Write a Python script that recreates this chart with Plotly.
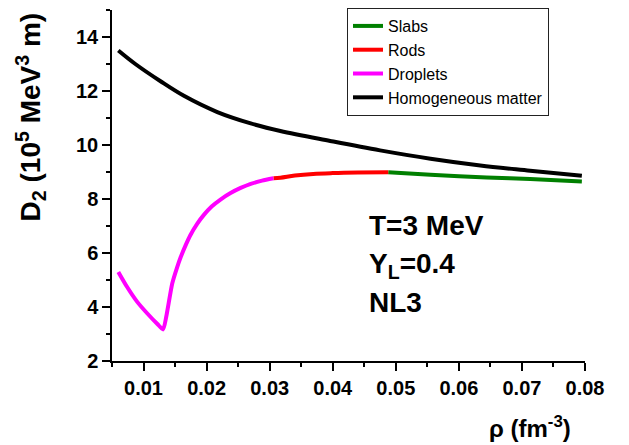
import plotly.graph_objects as go

# Data
slabs_x = [0.0488, 0.0555, 0.0644, 0.0713, 0.0795]
slabs_y = [8.99, 8.90, 8.80, 8.74, 8.65]

rods_x = [0.0306, 0.0317, 0.0340, 0.0369, 0.0400, 0.0440, 0.0488]
rods_y = [8.77, 8.79, 8.87, 8.93, 8.96, 8.98, 8.99]

drop_x = [0.0060, 0.0074, 0.0090, 0.0106, 0.0122, 0.0131, 0.0136, 0.01455,
          0.0153, 0.0159, 0.0167, 0.0174, 0.0185, 0.0196, 0.0208, 0.0222,
          0.0238, 0.0254, 0.0270, 0.0288, 0.0306]
drop_y = [5.30, 4.74, 4.19, 3.76, 3.37, 3.17, 3.64, 4.87,
          5.45, 5.85, 6.30, 6.65, 7.08, 7.42, 7.72, 7.98,
          8.22, 8.41, 8.56, 8.68, 8.77]

hom_x = [0.0060, 0.0087, 0.0127, 0.0164, 0.0217, 0.0270, 0.0317, 0.0396,
         0.0475, 0.0555, 0.0634, 0.0713, 0.0795]
hom_y = [13.50, 13.00, 12.36, 11.82, 11.22, 10.80, 10.52, 10.15,
         9.80, 9.49, 9.24, 9.05, 8.86]

FONT = "Arial, Liberation Sans, sans-serif"
OFF = 8  # the page body has an 8px margin
W, H = 629 - OFF, 445 - OFF
L, R, T, B = 112 - OFF, 629 - 585, 8 - OFF, 445 - 361
pw, ph = W - L - R, H - T - B


def px(xp):
    return (xp - OFF - L) / pw


def py(yp):
    return (H - B - (yp - OFF)) / ph


fig = go.Figure()
lw = 4
fig.add_trace(go.Scatter(x=slabs_x, y=slabs_y, mode="lines", name="Slabs",
                         line=dict(color="#008000", width=lw, shape="spline")))
fig.add_trace(go.Scatter(x=rods_x, y=rods_y, mode="lines", name="Rods",
                         line=dict(color="#FF0000", width=lw, shape="spline")))
fig.add_trace(go.Scatter(x=drop_x, y=drop_y, mode="lines", name="Droplets",
                         line=dict(color="#FF00FF", width=lw, shape="spline", smoothing=0.6)))
fig.add_trace(go.Scatter(x=hom_x, y=hom_y, mode="lines", name="Homogeneous matter",
                         line=dict(color="#000000", width=lw, shape="spline")))

axis_common = dict(
    showline=True, linecolor="black", linewidth=1.5, showgrid=False, zeroline=False,
    ticks="outside", ticklen=8, tickwidth=1.5, tickcolor="black",
    tickfont=dict(family=FONT, size=20, color="black", weight=700),
    minor=dict(ticks="outside", ticklen=4, tickwidth=1.5, tickcolor="black", showgrid=False),
)

fig.update_xaxes(range=[0.005, 0.08], tick0=0.01, dtick=0.01,
                 minor_dtick=0.005, minor_tick0=0.005, **axis_common)
fig.update_yaxes(range=[2, 15], tick0=2, dtick=2, minor_dtick=1, **axis_common)

annos = [
    dict(text="D<sub>2</sub> (10<sup>5</sup> MeV<sup>3</sup> m)", x=px(31), y=py(116),
         textangle=-90, font=dict(size=28)),
    dict(text="ρ (fm<sup>-3</sup>)", x=px(530), y=py(427), font=dict(size=24)),
    dict(text="T=3 MeV", x=px(367), y=py(225), xanchor="left", font=dict(size=28)),
    dict(text="Y<sub>L</sub>=0.4", x=px(367), y=py(265), xanchor="left", font=dict(size=28)),
    dict(text="NL3", x=px(367), y=py(302), xanchor="left", font=dict(size=28)),
]
for a in annos:
    a.setdefault("xanchor", "center")
    a["font"] = dict(family=FONT, color="black", weight=700, **a["font"])
    fig.add_annotation(xref="paper", yref="paper", showarrow=False, yanchor="middle", **a)

fig.update_layout(
    width=W, height=H,
    margin=dict(l=L, r=R, t=T, b=B, pad=0),
    plot_bgcolor="white", paper_bgcolor="white",
    showlegend=True,
    legend=dict(x=px(347), y=py(6), xanchor="left", yanchor="top",
                bgcolor="white", bordercolor="#222222", borderwidth=1,
                font=dict(family=FONT, size=16, color="black"),
                tracegroupgap=0, itemwidth=30),
)

fig.write_html("out.html")
